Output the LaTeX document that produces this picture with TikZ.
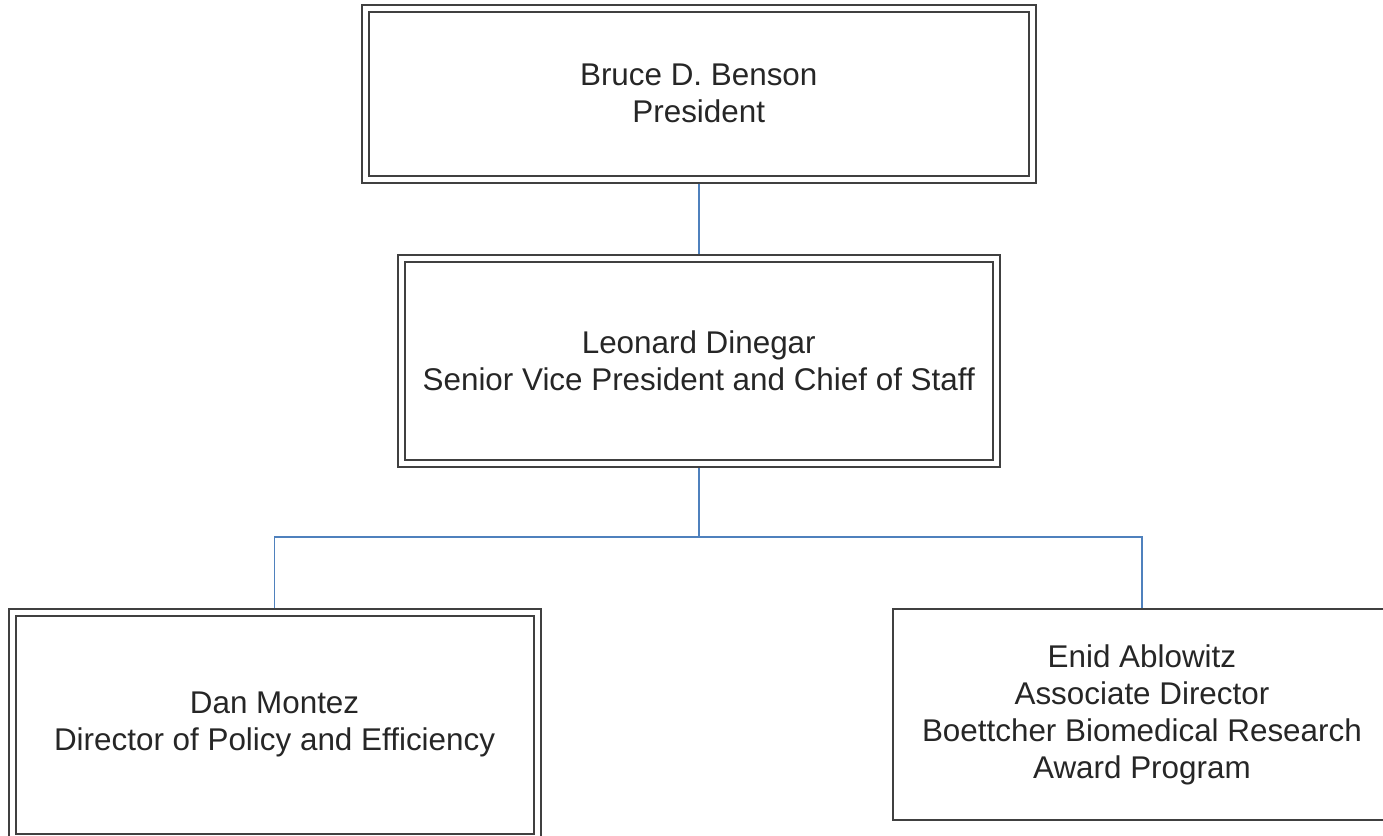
\documentclass[tikz,border=0pt]{standalone}
\usepackage{fontspec}
\setmainfont{Liberation Sans}
\usetikzlibrary{positioning}

\begin{document}
\begin{tikzpicture}[x=0.5pt,y=-0.5pt]
   \tikzset{double node/.style={rectangle, draw=black!75, line width=1pt,
   		double, double distance=2.5pt, outer sep=2.25pt,
   		text centered, align=center, text=black!85,
   		font=\fontsize{15.7}{18.5}\selectfont}, }
   \tikzset{single node/.style={rectangle, draw=black!75, line width=1pt,
   		text centered, align=center, text=black!85,
   		font=\fontsize{15.7}{18.5}\selectfont}, }
   \tikzset{linea/.style={draw={rgb,255:red,79;green,129;blue,189}, line width=0.9pt},}

\useasboundingbox (0,0) rectangle (1383,836);
\node[double node, minimum width=333.25pt, minimum height=85.25pt] (benson) at (698.75,93.75) {Bruce D. Benson\\President};
\node[double node, minimum width=297.5pt, minimum height=102.75pt] (dinegar) [below=35pt of benson] {Leonard Dinegar\\Senior Vice President and Chief of Staff};
\node[double node, minimum width=262.5pt, minimum height=112.25pt] (montez) [below=70pt of dinegar, xshift=-212.1pt] {Dan Montez\\Director of Policy and Efficiency};
\node[single node, minimum width=248.5pt, minimum height=105.5pt] (ablowitz) [below=70pt of dinegar, xshift=221.6pt] {Enid Ablowitz\\Associate Director\\Boettcher Biomedical Research\\Award Program};
\coordinate (bus) at ([yshift=-34.5pt]dinegar.south);
\draw[linea] (benson) -- (dinegar);
\draw[linea] (dinegar) -- (bus) -| (montez);
\draw[linea] (bus) -| (ablowitz);
%
\end{tikzpicture}
\end{document}
